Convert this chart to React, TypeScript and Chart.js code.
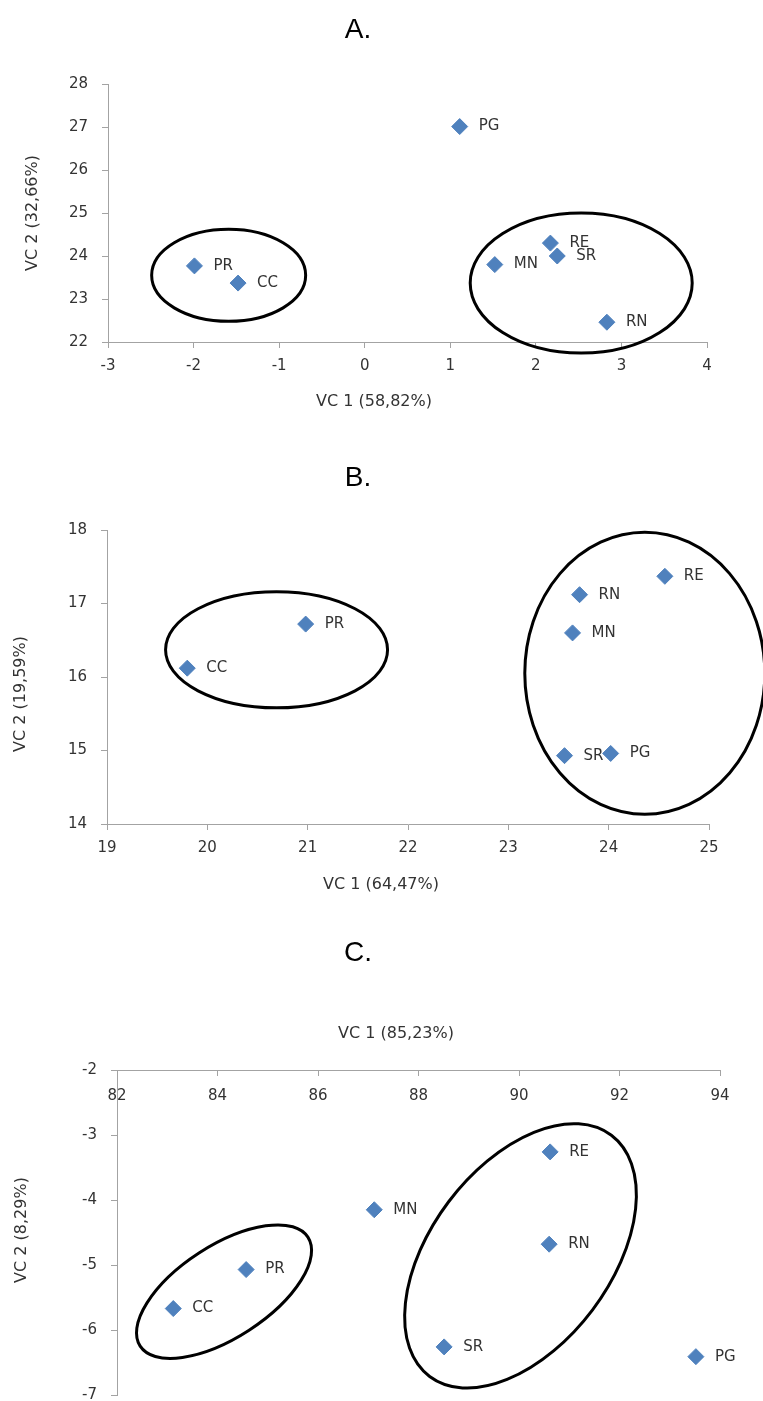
import { useEffect, useRef } from "react";
import { Chart, registerables } from "chart.js";

Chart.register(...registerables);

// ---------- data ----------
const SAMPLES = ["PR", "CC", "MN", "RE", "SR", "RN", "PG"];

const A_VC1 = [-1.99, -1.48, 1.52, 2.17, 2.25, 2.83, 1.11];
const A_VC2 = [23.77, 23.37, 23.8, 24.3, 24.0, 22.46, 27.01];

const B_VC1 = [20.98, 19.8, 23.64, 24.56, 23.56, 23.71, 24.02];
const B_VC2 = [16.72, 16.12, 16.6, 17.37, 14.93, 17.12, 14.96];

const C_VC1 = [84.57, 83.12, 87.12, 90.62, 88.51, 90.6, 93.52];
const C_VC2 = [-5.07, -5.67, -4.15, -3.26, -6.26, -4.68, -6.41];

const A_X_TICKS = [-3, -2, -1, 0, 1, 2, 3, 4];
const A_Y_TICKS = [22, 23, 24, 25, 26, 27, 28];
const B_X_TICKS = [19, 20, 21, 22, 23, 24, 25];
const B_Y_TICKS = [14, 15, 16, 17, 18];
const C_X_TICKS = [82, 84, 86, 88, 90, 92, 94];
const C_Y_TICKS = [-7, -6, -5, -4, -3, -2];

const PANEL_TITLES = ["A.", "B.", "C."];
const X_TITLES = ["VC 1 (58,82%)", "VC 1 (64,47%)", "VC 1 (85,23%)"];
const Y_TITLES = ["VC 2 (32,66%)", "VC 2 (19,59%)", "VC 2 (8,29%)"];

// ---------- styling / layout ----------
const AXIS_GRAY = "#a3a3a3";
const TEXT_COLOR = "#333333";
const MARKER_COLOR = "#4f81bd";
const TICK_FONT = { family: "'DejaVu Sans', sans-serif", size: 15 };
const LABEL_FONT = "15px 'DejaVu Sans', sans-serif";
const AXIS_TITLE_FONT = "16px 'DejaVu Sans', sans-serif";
const PANEL_TITLE_FONT = "28px 'Liberation Sans', Arial, sans-serif";

type Ellipse = { cx: number; cy: number; rx: number; ry: number; angle: number };

type Panel = {
  top: number;
  height: number;
  xs: number[];
  ys: number[];
  xTicks: number[];
  yTicks: number[];
  padding: { top: number; right: number; bottom: number; left: number };
  xPos: "top" | "bottom";
  xAxisSize: number;
  yAxisSize: number;
  xTickLen: number;
  xTickPad: number;
  title: string;
  titlePos: [number, number];
  xTitle: string;
  xTitlePos: [number, number];
  yTitle: string;
  yTitlePos: [number, number];
  ellipses: Ellipse[];
};

const PANELS: Panel[] = [
  {
    top: 0,
    height: 440,
    xs: A_VC1,
    ys: A_VC2,
    xTicks: A_X_TICKS,
    yTicks: A_Y_TICKS,
    padding: { top: 84, right: 56, bottom: 0, left: 0 },
    xPos: "bottom",
    xAxisSize: 98,
    yAxisSize: 108,
    xTickLen: 6,
    xTickPad: 9,
    title: PANEL_TITLES[0],
    titlePos: [358, 38],
    xTitle: X_TITLES[0],
    xTitlePos: [374, 402],
    yTitle: Y_TITLES[0],
    yTitlePos: [33, 213],
    ellipses: [
      { cx: -1.59, cy: 23.55, rx: 77, ry: 46, angle: 0 },
      { cx: 2.53, cy: 23.37, rx: 111, ry: 70, angle: 0 },
    ],
  },
  {
    top: 440,
    height: 470,
    xs: B_VC1,
    ys: B_VC2,
    xTicks: B_X_TICKS,
    yTicks: B_Y_TICKS,
    padding: { top: 90, right: 54, bottom: 0, left: 0 },
    xPos: "bottom",
    xAxisSize: 86,
    yAxisSize: 107,
    xTickLen: 6,
    xTickPad: 9,
    title: PANEL_TITLES[1],
    titlePos: [358, 486],
    xTitle: X_TITLES[1],
    xTitlePos: [381, 885],
    yTitle: Y_TITLES[1],
    yTitlePos: [21, 694],
    ellipses: [
      { cx: 20.69, cy: 16.37, rx: 111, ry: 58, angle: 0 },
      { cx: 24.36, cy: 16.05, rx: 120, ry: 141, angle: 0 },
    ],
  },
  {
    top: 910,
    height: 494,
    xs: C_VC1,
    ys: C_VC2,
    xTicks: C_X_TICKS,
    yTicks: C_Y_TICKS,
    padding: { top: 0, right: 43, bottom: 9, left: 0 },
    xPos: "top",
    xAxisSize: 160,
    yAxisSize: 117,
    xTickLen: -6,
    xTickPad: 17,
    title: PANEL_TITLES[2],
    titlePos: [358, 961],
    xTitle: X_TITLES[2],
    xTitlePos: [396, 1034],
    yTitle: Y_TITLES[2],
    yTitlePos: [22, 1230],
    ellipses: [
      { cx: 84.13, cy: -5.41, rx: 100, ry: 46, angle: -33 },
      { cx: 90.03, cy: -4.86, rx: 151, ry: 90, angle: -53 },
    ],
  },
];

function makeDecor(p: Panel) {
  return {
    id: "decor",
    beforeDatasetsDraw(chart: any) {
      const ctx = chart.ctx as CanvasRenderingContext2D;
      const meta = chart.getDatasetMeta(0);
      ctx.save();
      ctx.font = LABEL_FONT;
      ctx.fillStyle = TEXT_COLOR;
      ctx.textAlign = "left";
      ctx.textBaseline = "middle";
      meta.data.forEach((el: any, i: number) => {
        ctx.fillText(SAMPLES[i], el.x + 19, el.y);
      });
      ctx.restore();
    },
    afterDatasetsDraw(chart: any) {
      const ctx = chart.ctx as CanvasRenderingContext2D;
      const xs = chart.scales.x;
      const ys = chart.scales.y;
      ctx.save();
      ctx.strokeStyle = "#000";
      ctx.lineWidth = 3;
      p.ellipses.forEach((e) => {
        ctx.beginPath();
        ctx.ellipse(
          xs.getPixelForValue(e.cx),
          ys.getPixelForValue(e.cy),
          e.rx,
          e.ry,
          (e.angle * Math.PI) / 180,
          0,
          Math.PI * 2
        );
        ctx.stroke();
      });

      ctx.fillStyle = TEXT_COLOR;
      ctx.textAlign = "center";
      ctx.textBaseline = "middle";
      ctx.font = AXIS_TITLE_FONT;
      ctx.fillText(p.xTitle, p.xTitlePos[0], p.xTitlePos[1] - p.top);

      ctx.save();
      ctx.translate(p.yTitlePos[0], p.yTitlePos[1] - p.top);
      ctx.rotate(-Math.PI / 2);
      ctx.fillText(p.yTitle, 0, 0);
      ctx.restore();

      ctx.fillStyle = "#000";
      ctx.font = PANEL_TITLE_FONT;
      ctx.textBaseline = "alphabetic";
      ctx.fillText(p.title, p.titlePos[0], p.titlePos[1] - p.top);
      ctx.restore();
    },
  };
}

function buildConfig(p: Panel): any {
  const gridOpts = (tl: number) => ({
    drawOnChartArea: false,
    drawTicks: true,
    tickLength: tl,
    color: AXIS_GRAY,
    lineWidth: 1,
  });
  return {
    type: "scatter",
    data: {
      datasets: [
        {
          data: p.xs.map((x, i) => ({ x, y: p.ys[i] })),
          pointStyle: "rectRot",
          pointRadius: 8,
          pointHoverRadius: 8,
          backgroundColor: MARKER_COLOR,
          borderColor: MARKER_COLOR,
          borderWidth: 1,
        },
      ],
    },
    options: {
      animation: false,
      responsive: false,
      devicePixelRatio: 1,
      events: [],
      layout: { padding: p.padding },
      plugins: {
        legend: { display: false },
        tooltip: { enabled: false },
        title: { display: false },
      },
      scales: {
        x: {
          type: "linear",
          position: p.xPos,
          min: p.xTicks[0],
          max: p.xTicks[p.xTicks.length - 1],
          afterBuildTicks: (s: any) => {
            s.ticks = p.xTicks.map((v) => ({ value: v }));
          },
          ticks: {
            font: TICK_FONT,
            color: TEXT_COLOR,
            padding: p.xTickPad,
            mirror: p.xPos === "top",
            maxRotation: 0,
            autoSkip: false,
          },
          grid: gridOpts(p.xTickLen),
          border: { color: AXIS_GRAY, width: 1 },
          afterFit: (s: any) => {
            s.height = p.xAxisSize;
            s.paddingLeft = 0;
            s.paddingRight = 0;
          },
        },
        y: {
          type: "linear",
          position: "left",
          min: p.yTicks[0],
          max: p.yTicks[p.yTicks.length - 1],
          afterBuildTicks: (s: any) => {
            s.ticks = p.yTicks.map((v) => ({ value: v }));
          },
          ticks: {
            font: TICK_FONT,
            color: TEXT_COLOR,
            padding: 14,
            autoSkip: false,
          },
          grid: gridOpts(6),
          border: { color: AXIS_GRAY, width: 1 },
          afterFit: (s: any) => {
            s.width = p.yAxisSize;
            s.paddingTop = 0;
            s.paddingBottom = 0;
          },
        },
      },
    },
    plugins: [makeDecor(p)],
  };
}

function PanelChart({ p }: { p: Panel }) {
  const ref = useRef<HTMLCanvasElement>(null);
  useEffect(() => {
    if (!ref.current) return;
    const chart = new Chart(ref.current, buildConfig(p));
    return () => chart.destroy();
  }, [p]);
  return (
    <canvas
      ref={ref}
      width={763}
      height={p.height}
      style={{ position: "absolute", left: 0, top: p.top, width: 763, height: p.height, display: "block" }}
    />
  );
}

export default function App() {
  return (
    <div
      style={{
        position: "absolute",
        left: 0,
        top: 0,
        width: 763,
        height: 1401,
        overflow: "hidden",
        background: "#ffffff",
      }}
    >
      {PANELS.map((p, i) => (
        <PanelChart key={i} p={p} />
      ))}
    </div>
  );
}
